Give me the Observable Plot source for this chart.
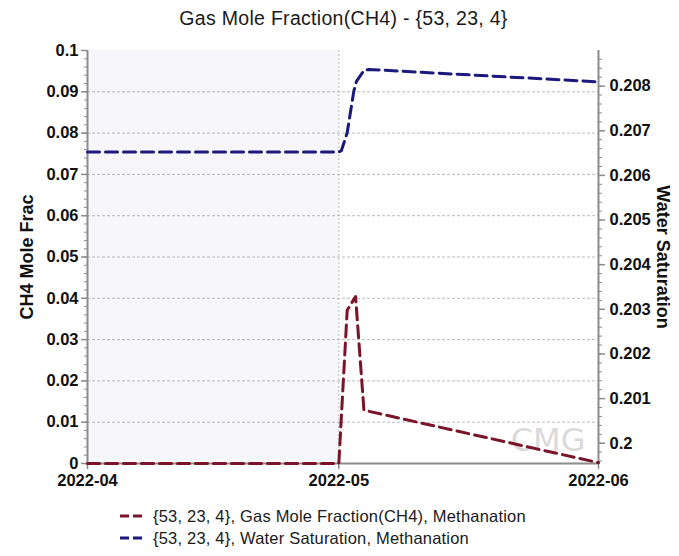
<!DOCTYPE html>
<html>
<head>
<meta charset="utf-8">
<script src="https://cdn.jsdelivr.net/npm/d3@7"></script>
<script src="https://cdn.jsdelivr.net/npm/@observablehq/plot@0.6"></script>
<style>
  html, body { margin: 0; padding: 0; background: #fff; }
  body { width: 679px; font-family: "Liberation Sans", Arial, sans-serif; color: #1a1a1a; }
  #title { height: 36px; line-height: 36px; font-size: 19.5px; text-align: center; padding-left: 8px; letter-spacing: 0.3px; }
  #legend { padding-top: 9px; padding-left: 120px; font-size: 16.5px; letter-spacing: 0.2px; }
  .item { height: 22px; line-height: 22px; display: flex; align-items: center; }
  .item svg { margin-right: 7px; }
</style>
</head>
<body>
<div id="title">Gas Mole Fraction(CH4) - {53, 23, 4}</div>
<div id="chart"></div>
<div id="legend"></div>
<script>
// Gas mole fraction of CH4 (left axis)
const ch4Dates = ["2022-04-01T00:00Z", "2022-05-01T00:00Z", "2022-05-02T00:00Z", "2022-05-03T00:00Z", "2022-05-04T00:00Z", "2022-06-01T00:00Z"];
const ch4Values = [0, 0, 0.0371, 0.0404, 0.0129, 0.0002];

// Water saturation (right axis)
const swDates = ["2022-04-01T00:00Z", "2022-05-01T00:00Z", "2022-05-01T07:00Z", "2022-05-02T00:00Z", "2022-05-02T19:00Z", "2022-05-03T03:00Z", "2022-05-04T00:00Z", "2022-05-04T14:00Z", "2022-06-01T00:00Z"];
const swValues = [0.206525, 0.206525, 0.206547, 0.206956, 0.207888, 0.208112, 0.208351, 0.208373, 0.208096];

// Axis ticks
const xTicks = ["2022-04-01T00:00Z", "2022-05-01T00:00Z", "2022-06-01T00:00Z"];
const leftTicks = [0, 0.01, 0.02, 0.03, 0.04, 0.05, 0.06, 0.07, 0.08, 0.09, 0.1];
const rightTicks = [0.2, 0.201, 0.202, 0.203, 0.204, 0.205, 0.206, 0.207, 0.208];
const leftDomain = [0, 0.1];
const rightDomain = [0.199546, 0.208798];
const historyEnd = "2022-05-01T00:00Z";

const seriesNames = ["{53, 23, 4}, Gas Mole Fraction(CH4), Methanation", "{53, 23, 4}, Water Saturation, Methanation"];
const seriesColors = ["#7a1428", "#1b1a7c"];

const ch4 = ch4Dates.map((d, i) => ({date: new Date(d), value: ch4Values[i]}));
const sw = swDates.map((d, i) => ({date: new Date(d), value: swValues[i]}));
const xDates = xTicks.map(d => new Date(d));

// map water saturation onto the left (CH4) scale and back
const toLeft = d3.scaleLinear().domain(rightDomain).range(leftDomain);
const fromLeft = toLeft.invert;

const minorLeft = d3.range(0, 101, 2).map(v => v / 1000);
const minorRight = d3.range(1996, 2088, 2).map(v => v / 10000).filter(v => v >= rightDomain[0] && v <= rightDomain[1]);

const axisColor = "#8c8c8c";
const gridColor = "#a9a9a9";
const dash = "12,6";

const chart = Plot.plot({
  width: 679,
  height: 460,
  marginLeft: 87,
  marginRight: 81,
  marginTop: 14,
  marginBottom: 33,
  style: {fontFamily: "'Liberation Sans', Arial, sans-serif", fontSize: "16.5px", fontWeight: "bold", color: "#111", background: "transparent"},
  x: {type: "utc", domain: [xDates[0], xDates[2]]},
  y: {domain: leftDomain},
  marks: [
    // shaded history period
    Plot.rect([{x1: xDates[0], x2: new Date(historyEnd)}], {x1: "x1", x2: "x2", y1: leftDomain[0], y2: leftDomain[1], fill: "#f7f6fa"}),
    // grid
    Plot.ruleY(leftTicks.slice(1, -1), {stroke: gridColor, strokeWidth: 0.8, strokeDasharray: "3,2"}),
    Plot.ruleX([new Date(historyEnd)], {stroke: gridColor, strokeWidth: 0.8, strokeDasharray: "2,2"}),
    // axes
    Plot.axisX(xDates, {anchor: "bottom", tickSize: 6, tickPadding: 5, stroke: axisColor, strokeWidth: 1.5, tickFormat: d3.utcFormat("%Y-%m"), label: null}),
    Plot.axisY(minorLeft, {anchor: "left", tickSize: 3, stroke: axisColor, tickFormat: () => "", label: null}),
    Plot.axisY(leftTicks, {anchor: "left", tickSize: 6, tickPadding: 3, stroke: axisColor, strokeWidth: 1.5, tickFormat: d => d3.format("~g")(d), label: null}),
    Plot.axisY(minorRight.map(toLeft), {anchor: "right", tickSize: 3, stroke: axisColor, tickFormat: () => "", label: null}),
    Plot.axisY(rightTicks.map(toLeft), {anchor: "right", tickSize: 6, tickPadding: 5, stroke: axisColor, strokeWidth: 1.5, tickFormat: d => d3.format(".3~f")(fromLeft(d)), label: null}),
    Plot.ruleX([xDates[0], xDates[2]], {stroke: axisColor, strokeWidth: 2}),
    Plot.ruleY([leftDomain[0]], {stroke: axisColor, strokeWidth: 2}),
    // axis titles
    Plot.text(["CH4 Mole Frac"], {text: d => d, frameAnchor: "left", textAnchor: "middle", dx: -60, rotate: -90, fontSize: 18, fontWeight: "bold", fill: "#111"}),
    Plot.text(["Water Saturation"], {text: d => d, frameAnchor: "right", textAnchor: "middle", dx: 64, rotate: 90, fontSize: 18, fontWeight: "bold", fill: "#111"}),
    // watermark
    Plot.text(["CMG"], {text: d => d, frameAnchor: "bottom-right", textAnchor: "end", dx: -13, dy: -13, fontSize: 32, fontWeight: "normal", fontFamily: "'DejaVu Sans', sans-serif", letterSpacing: -1, fill: "#dadada"}),
    // series
    Plot.line(ch4, {x: "date", y: "value", stroke: seriesColors[0], strokeWidth: 3, strokeDasharray: dash}),
    Plot.line(sw, {x: "date", y: d => toLeft(d.value), stroke: seriesColors[1], strokeWidth: 3, strokeDasharray: dash})
  ]
});
document.getElementById("chart").append(chart);

// legend
const legend = document.getElementById("legend");
seriesNames.forEach((name, i) => {
  const row = document.createElement("div");
  row.className = "item";
  row.innerHTML = `<svg width="26" height="10"><line x1="0" y1="5" x2="26" y2="5" stroke="${seriesColors[i]}" stroke-width="3" stroke-dasharray="9,4"/></svg><span>${name}</span>`;
  legend.append(row);
});
</script>
</body>
</html>
